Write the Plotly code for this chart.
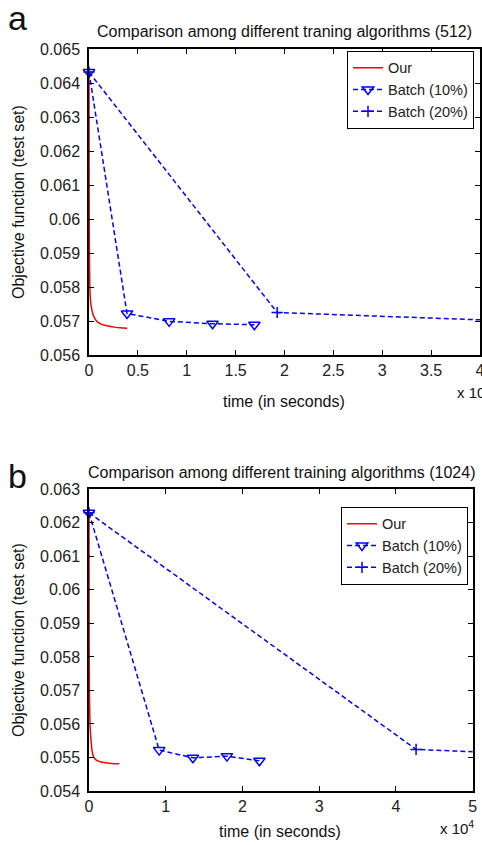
import plotly.graph_objects as go

# ---- data (time in seconds, objective on test set) ----
# panel a (512)
our_t_a = [0, 10, 25, 50, 80, 120, 180, 300, 450, 650, 850, 1100, 1500, 2000, 2600, 3200, 3890]
our_y_a = [0.0643, 0.0620, 0.0600, 0.0588, 0.0581, 0.05775, 0.05752, 0.05732, 0.05716, 0.05705,
           0.05698, 0.05693, 0.05688, 0.05685, 0.05682, 0.05680, 0.05679]
b10_t_a = [0, 3890, 8200, 12640, 16920]
b10_y_a = [0.06432, 0.05722, 0.05699, 0.05692, 0.05689]
b20_t_a = [0, 19250, 57750]
b20_y_a = [0.06432, 0.05725, 0.05685]

# panel b (1024)
our_t_b = [0, 10, 30, 60, 100, 150, 260, 400, 600, 900, 1470, 2200, 3000, 3950]
our_y_b = [0.0623, 0.0600, 0.0580, 0.0569, 0.0563, 0.0559, 0.05552, 0.05520, 0.05502, 0.05493,
           0.05487, 0.05484, 0.05482, 0.05481]
b10_t_b = [0, 9150, 13540, 17970, 22200]
b10_y_b = [0.0623, 0.05522, 0.05499, 0.05504, 0.05490]
b20_t_b = [0, 42620, 85240]
b20_y_b = [0.0623, 0.05524, 0.05484]

xticks_a = [0, 0.5, 1, 1.5, 2, 2.5, 3, 3.5, 4]
xticks_b = [0, 1, 2, 3, 4, 5]
yticks_a = [0.056, 0.057, 0.058, 0.059, 0.060, 0.061, 0.062, 0.063, 0.064, 0.065]
yticks_b = [0.054, 0.055, 0.056, 0.057, 0.058, 0.059, 0.060, 0.061, 0.062, 0.063]

FONT = "Arial, Liberation Sans, sans-serif"
W, H = 482, 845
L, R, T, B = 89, 2, 49, 54


def px(x, y):
    # pixel -> paper coords
    return (x - L) / (W - L - R), (H - B - y) / (H - T - B)


def scale(t):
    return [v / 1e4 for v in t]


fig = go.Figure()

dash = "5px,3px"
blue = "#0000ff"

def add_panel(n, our_t, our_y, b10_t, b10_y, b20_t, b20_y):
    xa = "x" if n == 1 else "x2"
    ya = "y" if n == 1 else "y2"
    leg = "legend" if n == 1 else "legend2"
    fig.add_trace(go.Scatter(x=scale(our_t), y=our_y, mode="lines", name="Our",
                             line=dict(color="#ff0000", width=1.5, shape="spline", smoothing=0.6),
                             xaxis=xa, yaxis=ya, legend=leg))
    fig.add_trace(go.Scatter(x=scale(b10_t), y=b10_y, mode="lines+markers", name="Batch (10%)",
                             line=dict(color=blue, width=1.5, dash=dash),
                             marker=dict(symbol="triangle-down-open", size=10,
                                         color=blue, line=dict(width=1.5, color=blue)),
                             cliponaxis=False, xaxis=xa, yaxis=ya, legend=leg))
    fig.add_trace(go.Scatter(x=scale(b20_t), y=b20_y, mode="lines+markers", name="Batch (20%)",
                             line=dict(color=blue, width=1.5, dash=dash),
                             marker=dict(symbol="cross-thin-open", size=8,
                                         color=blue, line=dict(width=1.5, color=blue)),
                             cliponaxis=False, xaxis=xa, yaxis=ya, legend=leg))


add_panel(1, our_t_a, our_y_a, b10_t_a, b10_y_a, b20_t_a, b20_y_a)
add_panel(2, our_t_b, our_y_b, b10_t_b, b10_y_b, b20_t_b, b20_y_b)

ax = dict(showline=True, linecolor="black", linewidth=1.5, mirror="ticks",
          ticks="inside", ticklen=5, tickwidth=1, tickcolor="black",
          showgrid=False, zeroline=False, automargin=False, ticklabeloverflow="allow",
          tickfont=dict(family=FONT, size=16, color="#222"))

_, ya_bot = px(0, 355)
_, yb_top = px(0, 489.3)
xb_right, _ = px(472.7, 0)

fig.update_layout(
    width=W, height=H,
    margin=dict(l=L, r=R, t=T, b=B, autoexpand=False),
    paper_bgcolor="white", plot_bgcolor="white",
    font=dict(family=FONT, size=16, color="#222"),
    xaxis=dict(ax, domain=[0, 1], range=[0, 4], tickvals=xticks_a,
               ticktext=[f"{v:g}" for v in xticks_a], anchor="y"),
    yaxis=dict(ax, domain=[ya_bot, 1], range=[0.056, 0.065], tickvals=yticks_a,
               ticktext=[f"{v:g}" for v in yticks_a], anchor="x", ticklabelstandoff=4),
    xaxis2=dict(ax, domain=[0, xb_right], range=[0, 5], tickvals=xticks_b,
                ticktext=[f"{v:g}" for v in xticks_b], anchor="y2"),
    yaxis2=dict(ax, domain=[0, yb_top], range=[0.054, 0.063], tickvals=yticks_b,
                ticktext=[f"{v:g}" for v in yticks_b], anchor="x2", ticklabelstandoff=4),
    legend=dict(x=px(474, 0)[0], y=px(0, 50.7)[1], xanchor="right", yanchor="top",
                bordercolor="black", borderwidth=1, bgcolor="white",
                font=dict(family=FONT, size=14.5, color="#222"),
                tracegroupgap=0, itemwidth=30),
    legend2=dict(x=px(468, 0)[0], y=px(0, 506.7)[1], xanchor="right", yanchor="top",
                 bordercolor="black", borderwidth=1, bgcolor="white",
                 font=dict(family=FONT, size=14.5, color="#222"),
                 tracegroupgap=0, itemwidth=30),
)

ann = []


def text(x, y, s, size=16, angle=0, xanchor="center"):
    xp, yp = px(x, y)
    ann.append(dict(x=xp, y=yp, xref="paper", yref="paper", text=s, showarrow=False,
                    textangle=angle, xanchor=xanchor, yanchor="middle",
                    font=dict(family=FONT, size=size, color="#111")))


text(284, 32, "Comparison among different traning algorithms (512)", 16)
text(281, 472, "Comparison among different training algorithms (1024)", 16)
text(18, 202, "Objective function (test set)", 16, -90)
text(18, 640, "Objective function (test set)", 16, -90)
text(284, 401, "time (in seconds)", 16)
text(280, 832, "time (in seconds)", 16)
text(455, 391, "x 10<sup>4</sup>", 15, xanchor="left")
text(438, 827, "x 10<sup>4</sup>", 15, xanchor="left")
text(6, 18, "a", 34, xanchor="left")
text(6, 476, "b", 34, xanchor="left")

fig.update_layout(annotations=ann)

# page has a default 8px body margin; drop it so pixels line up
fig.write_html("out.html", config={"displayModeBar": False},
               post_script="document.body.style.margin='0';")
